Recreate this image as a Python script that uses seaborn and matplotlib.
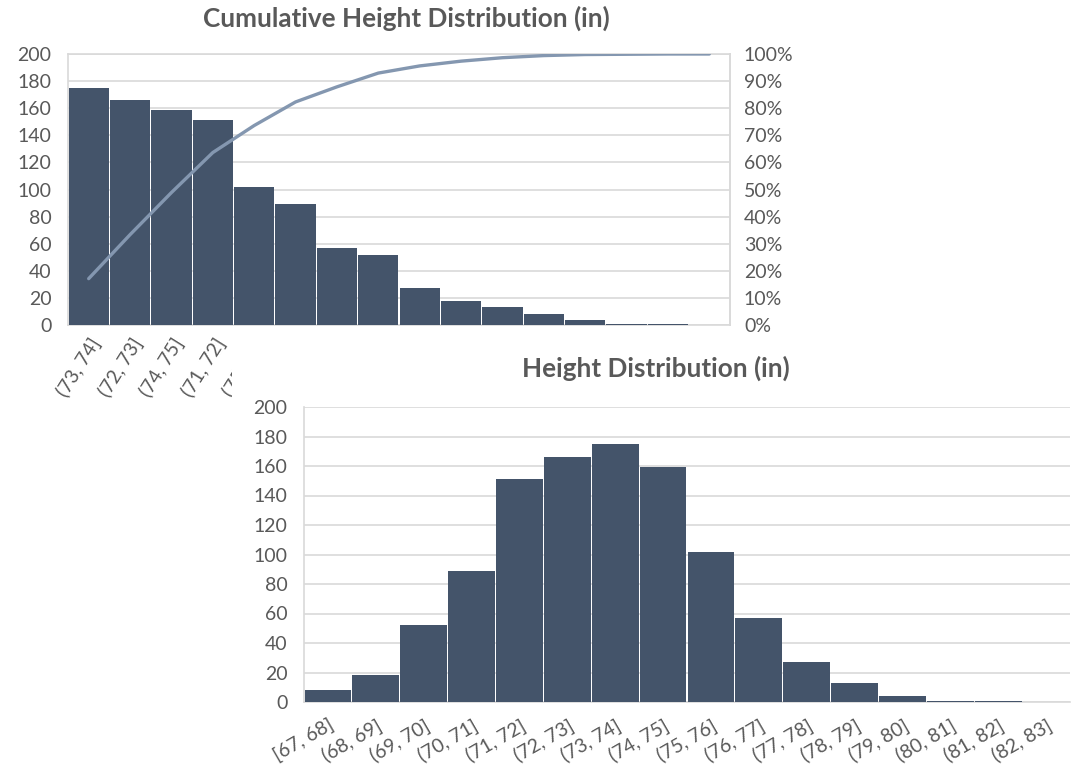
import numpy as np
import pandas as pd
import matplotlib
matplotlib.use("Agg")
import matplotlib.pyplot as plt
from matplotlib.patches import Rectangle
from matplotlib.ticker import PercentFormatter
import seaborn as sns

# Height bins (inches) and player counts per bin
bins = ["[67, 68]", "(68, 69]", "(69, 70]", "(70, 71]", "(71, 72]", "(72, 73]",
        "(73, 74]", "(74, 75]", "(75, 76]", "(76, 77]", "(77, 78]", "(78, 79]",
        "(79, 80]", "(80, 81]", "(81, 82]", "(82, 83]"]
counts = [8, 18, 52, 89, 151, 166, 175, 159, 102, 57, 27, 13, 4, 1, 1, 0]

count_ticks = [0, 20, 40, 60, 80, 100, 120, 140, 160, 180, 200]
pct_ticks = [0.0, 0.1, 0.2, 0.3, 0.4, 0.5, 0.6, 0.7, 0.8, 0.9, 1.0]

BAR = "#44546A"
LINE = "#8497B0"
GRID = "#D9D9D9"
TEXT = "#595959"
TICK_SIZE = 14
TITLE_SIZE = 18.8
BAR_WIDTH = 0.975  # thin white seams between adjacent bars

sns.set_theme(style="white")
plt.rcParams["font.family"] = ["Lato", "DejaVu Sans"]

df = pd.DataFrame({"bin": bins, "count": counts})
pareto = df.sort_values("count", ascending=False, kind="stable").reset_index(drop=True)
pareto["cum"] = pareto["count"].cumsum() / pareto["count"].sum()

W, H = 1079, 771
fig = plt.figure(figsize=(W / 100, H / 100), dpi=100)


def frac_box(x0, y0, x1, y1):
    return [x0 / W, 1 - y1 / H, (x1 - x0) / W, (y1 - y0) / H]


def style_axes(ax, ymax):
    ax.set_ylim(0, ymax)
    ax.set_yticks(count_ticks)
    ax.set_xlim(-0.5, len(bins) - 0.5)
    ax.grid(axis="y", color=GRID, linewidth=1.2)
    ax.set_axisbelow(True)
    ax.set_xlabel("")
    ax.set_ylabel("")
    ax.tick_params(axis="both", length=0, colors=TEXT, labelsize=TICK_SIZE)
    for side in ["left", "top", "right", "bottom"]:
        ax.spines[side].set_color(GRID)
        ax.spines[side].set_linewidth(1.2)
        ax.spines[side].set_zorder(0.5)


# --- Pareto chart (sorted bars with cumulative share) ---
ax1 = fig.add_axes(frac_box(68, 54, 730, 325))
ax1.set_zorder(0)
sns.barplot(data=pareto, x="bin", y="count", order=list(pareto["bin"]),
            color=BAR, saturation=1, width=BAR_WIDTH, linewidth=0, ax=ax1)
style_axes(ax1, 200)
ax1.set_xticks(range(len(pareto)))
ax1.set_xticklabels(pareto["bin"], rotation=58, ha="right",
                    rotation_mode="anchor", color=TEXT, fontsize=TICK_SIZE)
ax1.tick_params(axis="x", pad=7)
ax1.tick_params(axis="y", pad=12)

ax1b = ax1.twinx()
sns.lineplot(x=np.arange(len(pareto)), y=pareto["cum"].values, ax=ax1b,
             color=LINE, linewidth=2.4)
ax1b.set_ylim(0, 1)
ax1b.set_yticks(pct_ticks)
ax1b.yaxis.set_major_formatter(PercentFormatter(1.0, decimals=0))
ax1b.tick_params(axis="y", length=0, colors=TEXT, labelsize=TICK_SIZE, pad=10)
ax1b.set_xlim(-0.5, len(bins) - 0.5)
ax1b.set_ylabel("")
for side in ax1b.spines:
    ax1b.spines[side].set_visible(False)
ax1b.spines["right"].set_visible(True)
ax1b.spines["right"].set_color(GRID)
ax1b.spines["right"].set_linewidth(1.2)

fig.text(406 / W, 1 - 18 / H, "Cumulative Height Distribution (in)",
         ha="center", va="center", fontsize=TITLE_SIZE, fontweight="bold",
         color=TEXT)

# --- Histogram chart panel laid over the lower right ---
fig.add_artist(Rectangle((232 / W, 0), 1 - 232 / W, 1 - 335 / H,
                         transform=fig.transFigure, facecolor="white",
                         edgecolor="none", zorder=2))

ax2 = fig.add_axes(frac_box(304, 407, 1070, 702))
ax2.set_zorder(3)
sns.barplot(data=df, x="bin", y="count", order=bins, color=BAR, saturation=1,
            width=BAR_WIDTH, linewidth=0, ax=ax2)
style_axes(ax2, 200)
ax2.spines["right"].set_visible(False)
ax2.spines["top"].set_visible(False)
ax2.set_xticks(range(len(bins)))
ax2.set_xticklabels(bins, rotation=30, ha="right", rotation_mode="anchor",
                    color=TEXT, fontsize=TICK_SIZE)
ax2.tick_params(axis="x", pad=10)
ax2.tick_params(axis="y", pad=12)

fig.text(656 / W, 1 - 368 / H, "Height Distribution (in)",
         ha="center", va="center", fontsize=TITLE_SIZE, fontweight="bold",
         color=TEXT, zorder=4)

fig.savefig("out.png", dpi=100, facecolor="white")
